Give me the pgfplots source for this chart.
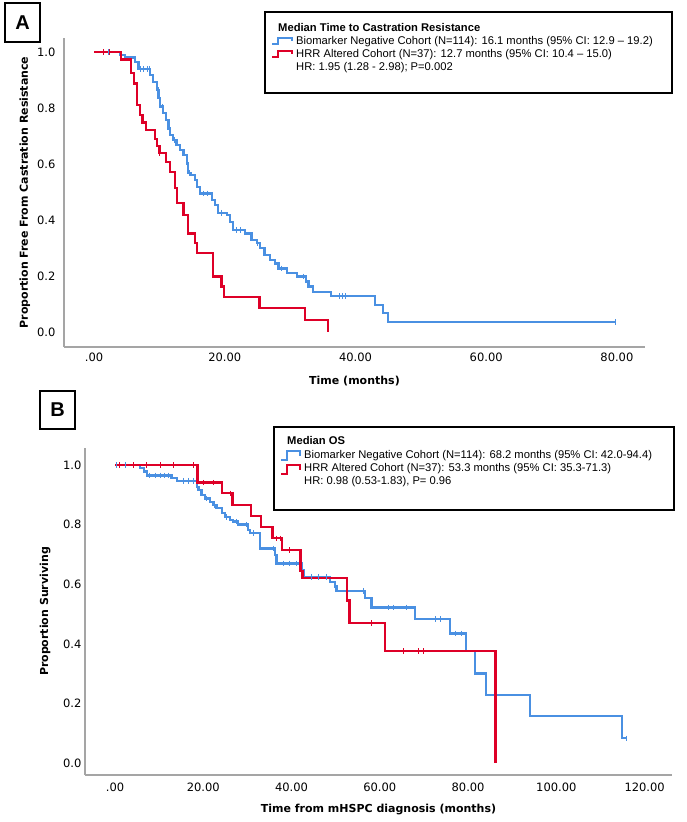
\documentclass[border=0pt]{standalone}
\usepackage{fontspec}
\setmainfont{Liberation Sans}
\newfontfamily\dv{DejaVu Sans}
\usepackage{pgfplots}
\pgfplotsset{compat=1.18}
\definecolor{kmblue}{RGB}{74,144,226}
\definecolor{kmred}{RGB}{222,0,40}
\definecolor{axgray}{RGB}{165,165,165}
\pgfplotsset{kmaxis/.style={
  scale only axis,
  axis x line*=bottom, axis y line*=left,
  axis line style={-, draw=axgray, line width=1.4pt},
  major tick length=0pt,
  ticklabel style={font=\dv\fontsize{11.5}{13}\selectfont, text=black},
  ytick={0,0.2,0.4,0.6,0.8,1.0},
  yticklabels={0.0,0.2,0.4,0.6,0.8,1.0},
  clip=false,
}}
\begin{document}
\begin{tikzpicture}[x=1pt,y=1pt]
\useasboundingbox (0pt,0pt) rectangle (687pt,822pt);
% ---------------- Panel A ----------------
\begin{axis}[kmaxis, at={(64pt,475pt)}, anchor=south west,
  width=581pt, height=309pt,
  xmin=-4.6, xmax=84.3, ymin=-0.0536, ymax=1.05,
  xtick={0,20,40,60,80}, xticklabels={.00,20.00,40.00,60.00,80.00},
  yticklabel style={xshift=-5pt},
  xticklabel style={yshift=-2pt},
  xlabel={Time (months)},
  ylabel={Proportion Free From Castration Resistance},
  every axis x label/.style={at={(axis description cs:0.5,-0.11)}, anchor=center, font=\dv\bfseries\fontsize{11}{13}\selectfont},
  every axis y label/.style={at={(axis description cs:-0.0672,0.5)}, rotate=90, anchor=center, font=\dv\bfseries\fontsize{11}{13}\selectfont},
]
\addplot[const plot, kmblue, line width=2.3pt] coordinates {
(0,1) (3.98,0.989) (4.74,0.980) (6.27,0.964) (6.78,0.940) (8.56,0.918) (9.07,0.894)
(9.58,0.864) (9.84,0.835) (10.09,0.805) (10.6,0.781) (11.0,0.757) (11.4,0.727)
(11.6,0.704) (12.1,0.686) (12.6,0.668) (13.1,0.650) (13.7,0.632) (14.2,0.602)
(14.4,0.567) (14.8,0.560) (15.4,0.543) (15.7,0.519) (16.2,0.495) (18.0,0.471)
(18.5,0.454) (19.0,0.426) (20.3,0.418) (20.8,0.394) (21.3,0.364) (23.1,0.352)
(24.1,0.329) (24.9,0.317) (25.4,0.299) (26.1,0.275) (26.9,0.257) (27.7,0.245)
(28.2,0.227) (29.5,0.210) (31.0,0.198) (32.4,0.180) (32.8,0.162) (33.5,0.144)
(36.3,0.129) (43.0,0.096) (44.2,0.067) (45.0,0.035) (79.8,0.035)};
\addplot[only marks, mark=|, mark size=2.8pt, kmblue, mark options={line width=0.9pt}] coordinates {
(2.2,1) (7.05,0.940) (7.6,0.940) (8.1,0.940) (8.4,0.940) (9.8,0.864) (10.4,0.805)
(12.3,0.686) (14.6,0.567) (16.8,0.495) (17.3,0.495) (19.5,0.426) (21.8,0.364) (22.4,0.364)
(25.0,0.317) (28.6,0.227) (32.0,0.198) (37.6,0.129) (38.0,0.129) (38.4,0.129) (79.8,0.035)};
\addplot[const plot, kmred, line width=2.3pt] coordinates {
(0,1) (4.13,0.973) (5.6,0.924) (6.1,0.888) (6.6,0.811) (7.0,0.775) (7.4,0.748)
(7.95,0.721) (9.33,0.688) (9.6,0.664) (10.0,0.638) (11.0,0.608) (11.6,0.572)
(12.4,0.513) (12.7,0.460) (13.7,0.418) (14.4,0.352) (15.4,0.317) (15.8,0.281)
(18.2,0.198) (19.5,0.162) (19.9,0.124) (25.3,0.085) (32.3,0.043) (35.8,0.0)};
\addplot[only marks, mark=|, mark size=2.8pt, kmred, mark options={line width=0.9pt}] coordinates {
(1.4,1) (2.4,1) (10.0,0.638)};
\end{axis}
% ---------------- Panel B ----------------
\begin{axis}[kmaxis, at={(85pt,47pt)}, anchor=south west,
  width=587pt, height=327pt,
  xmin=-6.8, xmax=126.2, ymin=-0.040, ymax=1.057,
  xtick={0,20,40,60,80,100,120}, xticklabels={.00,20.00,40.00,60.00,80.00,100.00,120.00},
  xticklabel style={yshift=-4pt},
  xlabel={Time from mHSPC diagnosis (months)},
  ylabel={Proportion Surviving},
  every axis x label/.style={at={(axis description cs:0.5,-0.107)}, anchor=center, font=\dv\bfseries\fontsize{11}{13}\selectfont},
  every axis y label/.style={at={(axis description cs:-0.0681,0.5)}, rotate=90, anchor=center, font=\dv\bfseries\fontsize{11}{13}\selectfont},
]
\addplot[const plot, kmblue, line width=2.3pt] coordinates {
(0,1) (5.7,0.991) (6.5,0.978) (7.2,0.965) (12.8,0.957) (14.1,0.947) (18.6,0.927)
(18.9,0.916) (19.6,0.900) (20.4,0.888) (21.5,0.877) (22.3,0.866) (23.0,0.855)
(24.2,0.838) (24.9,0.825) (26.0,0.816) (26.8,0.810) (27.9,0.800) (30.2,0.782)
(30.6,0.771) (32.8,0.720) (36.2,0.698) (36.6,0.670) (42.3,0.647) (42.7,0.625)
(48.7,0.608) (49.8,0.592) (50.2,0.578) (56.6,0.553) (58.1,0.522) (67.9,0.483)
(75.9,0.435) (79.5,0.376) (81.5,0.301) (84.0,0.228) (94.0,0.157) (114.8,0.083) (115.9,0.083)};
\addplot[only marks, mark=|, mark size=2.8pt, kmblue, mark options={line width=0.9pt}] coordinates {
(0.4,1) (2.3,1) (4.2,1) (7.9,0.965) (9.1,0.965) (10.2,0.965) (11.3,0.965) (12.1,0.965)
(15.5,0.947) (16.6,0.947) (17.8,0.947) (20.8,0.888) (22.6,0.866) (25.3,0.825) (27.6,0.810)
(29.8,0.800) (31.3,0.771) (35.9,0.720) (38.1,0.670) (39.6,0.670) (41.1,0.670) (44.5,0.625)
(46.0,0.625) (47.9,0.625) (56.2,0.578) (61.9,0.522) (63.0,0.522) (66.1,0.522) (72.7,0.483)
(73.8,0.483) (77.2,0.435) (78.5,0.435) (115.9,0.083)};
\addplot[const plot, kmred, line width=2.3pt] coordinates {
(0,1) (18.7,0.941) (24.3,0.905) (26.6,0.866) (30.8,0.829) (33.1,0.791) (35.7,0.754)
(37.8,0.715) (42.0,0.645) (42.5,0.620) (52.5,0.545) (53.1,0.469) (61.2,0.376) (86.2,0.0)};
\addplot[only marks, mark=|, mark size=2.8pt, kmred, mark options={line width=0.9pt}] coordinates {
(1.1,1) (4.2,1) (7.2,1) (10.2,1) (13.2,1) (17.7,1) (20.0,0.941) (22.3,0.941) (26.2,0.905)
(36.6,0.754) (37.4,0.754) (39.6,0.715) (58.1,0.469) (65.3,0.376) (68.7,0.376) (69.8,0.376)};
\end{axis}
% ---------------- Panel letters ----------------
\draw[line width=2.5pt] (5pt,819pt) rectangle (40pt,780pt);
\node at (22.5pt,799.5pt) {\bfseries\fontsize{20}{22}\selectfont A};
\draw[line width=2.5pt] (40pt,431pt) rectangle (75pt,393pt);
\node at (57.5pt,412pt) {\bfseries\fontsize{20}{22}\selectfont B};
% ---------------- Legend A ----------------
\draw[line width=2.5pt, fill=white] (265pt,810pt) rectangle (672pt,729pt);
\begin{scope}[every node/.style={anchor=base west, inner sep=0pt, font=\fontsize{11.2}{13}\selectfont}]
\node at (278pt,790pt) {\bfseries Median Time to Castration Resistance};
\node at (296pt,777pt) {Biomarker Negative Cohort (N=114): 16.1 months (95\% CI: 12.9 – 19.2)};
\node at (296pt,764pt) {HRR Altered Cohort (N=37): 12.7 months (95\% CI: 10.4 – 15.0)};
\node at (296pt,751pt) {HR: 1.95 (1.28 - 2.98); P=0.002};
\end{scope}
\draw[kmblue, line width=2pt] (272pt,778pt) -- (278pt,778pt) -- (278pt,784pt) -- (292pt,784pt) -- (292pt,781pt);
\draw[kmred, line width=2pt] (272pt,765pt) -- (278pt,765pt) -- (278pt,771pt) -- (292pt,771pt) -- (292pt,768pt);
% ---------------- Legend B ----------------
\draw[line width=2.5pt, fill=white] (274pt,395pt) rectangle (674pt,312pt);
\begin{scope}[every node/.style={anchor=base west, inner sep=0pt, font=\fontsize{11.2}{13}\selectfont}]
\node at (287pt,377pt) {\bfseries Median OS};
\node at (304pt,363.5pt) {Biomarker Negative Cohort (N=114): 68.2 months (95\% CI: 42.0-94.4)};
\node at (304pt,350pt) {HRR Altered Cohort (N=37): 53.3 months (95\% CI: 35.3-71.3)};
\node at (304pt,337pt) {HR: 0.98 (0.53-1.83), P= 0.96};
\end{scope}
\draw[kmblue, line width=2pt] (281pt,362pt) -- (287pt,362pt) -- (287pt,371pt) -- (300pt,371pt) -- (300pt,366pt);
\draw[kmred, line width=2pt] (281pt,348pt) -- (287pt,348pt) -- (287pt,357pt) -- (300pt,357pt) -- (300pt,352pt);
\end{tikzpicture}
\end{document}
